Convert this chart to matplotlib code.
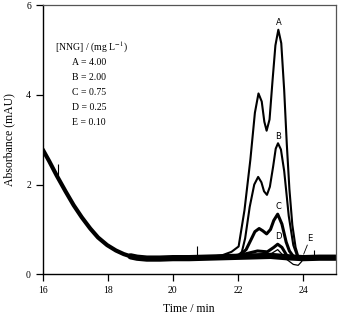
import numpy as np
import matplotlib.pyplot as plt

plt.rcParams['font.family'] = ['Liberation Serif', 'DejaVu Serif']
plt.rcParams['mathtext.fontset'] = 'stix'

# shared baseline (drift + flat noisy part)
base_t = [16.0, 16.2, 16.43, 16.7, 16.95, 17.2, 17.46, 17.7, 17.98, 18.25, 18.49, 18.7,
          18.9, 19.2, 19.6, 20.0, 20.5, 21.0, 21.5, 22.0, 22.5, 23.0, 23.5, 24.0, 24.5, 25.0]
base_v = [2.78, 2.52, 2.20, 1.85, 1.54, 1.27, 1.02, 0.82, 0.65, 0.53, 0.45, 0.40,
          0.37, 0.35, 0.35, 0.36, 0.36, 0.37, 0.38, 0.39, 0.40, 0.41, 0.38, 0.36, 0.37, 0.37]

# peaks for each NNG concentration
A_t = [21.0, 21.5, 21.8, 22.02, 22.2, 22.38, 22.52, 22.63, 22.73, 22.81, 22.88, 22.97,
       23.06, 23.15, 23.24, 23.33, 23.42, 23.5, 23.58, 23.67, 23.77, 23.87, 23.95, 24.1]
A_v = [0.38, 0.42, 0.5, 0.62, 1.43, 2.55, 3.6, 4.03, 3.85, 3.4, 3.2, 3.45,
       4.3, 5.1, 5.45, 5.15, 4.1, 2.9, 1.9, 1.1, 0.6, 0.36, 0.32, 0.36]

B_t = [21.6, 22.0, 22.12, 22.22, 22.36, 22.5, 22.62, 22.72, 22.8, 22.89, 22.98, 23.08,
       23.16, 23.23, 23.32, 23.42, 23.56, 23.7, 23.83, 24.0]
B_v = [0.38, 0.42, 0.5, 0.8, 1.5, 2.0, 2.17, 2.05, 1.85, 1.77, 1.95, 2.4,
       2.8, 2.92, 2.78, 2.3, 1.3, 0.65, 0.38, 0.36]

C_t = [21.6, 22.05, 22.25, 22.42, 22.52, 22.65, 22.76, 22.88, 23.0, 23.1, 23.22, 23.35,
       23.48, 23.58, 23.72, 23.9]
C_v = [0.38, 0.42, 0.55, 0.8, 0.95, 1.02, 0.97, 0.9, 1.0, 1.2, 1.34, 1.12,
       0.72, 0.52, 0.38, 0.36]

D_t = [21.5, 21.8, 22.2, 22.6, 22.9, 23.1, 23.22, 23.35, 23.5, 23.7, 23.9]
D_v = [0.38, 0.4, 0.45, 0.52, 0.5, 0.6, 0.67, 0.6, 0.42, 0.36, 0.36]

E_t = [22.0, 22.5, 23.0, 23.22, 23.35, 23.5, 23.7, 23.85, 23.95, 24.05, 24.2]
E_v = [0.40, 0.42, 0.45, 0.55, 0.45, 0.33, 0.22, 0.20, 0.28, 0.38, 0.38]

curve_labels = ['A', 'B', 'C', 'D', 'E']
label_t = [23.24, 23.24, 23.24, 23.24, 24.22]
label_v = [5.62, 3.08, 1.5, 0.85, 0.80]

# small spikes in the trace
spike_t = [16.48, 20.75, 24.35]
spike_lo = [2.2, 0.38, 0.38]
spike_hi = [2.45, 0.62, 0.55]

legend_title = '[NNG] / (mg L$^{-1}$)'
legend_lines = ['A = 4.00', 'B = 2.00', 'C = 0.75', 'D = 0.25', 'E = 0.10']

fig = plt.figure(figsize=(3.39, 3.16), dpi=100)
ax = fig.add_axes([0.126, 0.132, 0.864, 0.852])

ax.plot(base_t[:14], base_v[:14], color='black', lw=3.0, solid_capstyle='round')
ax.plot(base_t[11:], base_v[11:], color='black', lw=4.5, solid_capstyle='round')
ax.plot(A_t, A_v, color='black', lw=1.5)
ax.plot(B_t, B_v, color='black', lw=1.5)
ax.plot(C_t, C_v, color='black', lw=2.2)
ax.plot(D_t, D_v, color='black', lw=2.2)
ax.plot(E_t, E_v, color='black', lw=0.9)
ax.vlines(spike_t, spike_lo, spike_hi, color='black', lw=0.8)
ax.plot([24.02, 24.13], [0.45, 0.65], color='black', lw=0.6)

for lab, t, v in zip(curve_labels, label_t, label_v):
    ax.text(t, v, lab, family='DejaVu Sans', fontsize=6, ha='center', va='center')

ax.text(16.38, 5.05, legend_title, fontsize=7, va='center')
for i, s in enumerate(legend_lines):
    ax.text(16.9, 4.72 - i * 0.335, s, fontsize=7, va='center')

ax.set_xlim(16, 25)
ax.set_ylim(0, 6)
ax.set_xticks([16, 18, 20, 22, 24])
ax.set_yticks([0, 2, 4, 6])
ax.tick_params(direction='out', length=5, width=0.9, labelsize=7, top=False, right=False)
ax.set_xlabel('Time / min', fontsize=8.5, labelpad=6)
ax.set_ylabel('Absorbance (mAU)', fontsize=8.5, labelpad=8)
for side in ['left', 'bottom']:
    ax.spines[side].set_linewidth(1.0)
for side in ['top', 'right']:
    ax.spines[side].set_color('#555555')
    ax.spines[side].set_linewidth(0.9)

fig.savefig('out.png', dpi=100)
